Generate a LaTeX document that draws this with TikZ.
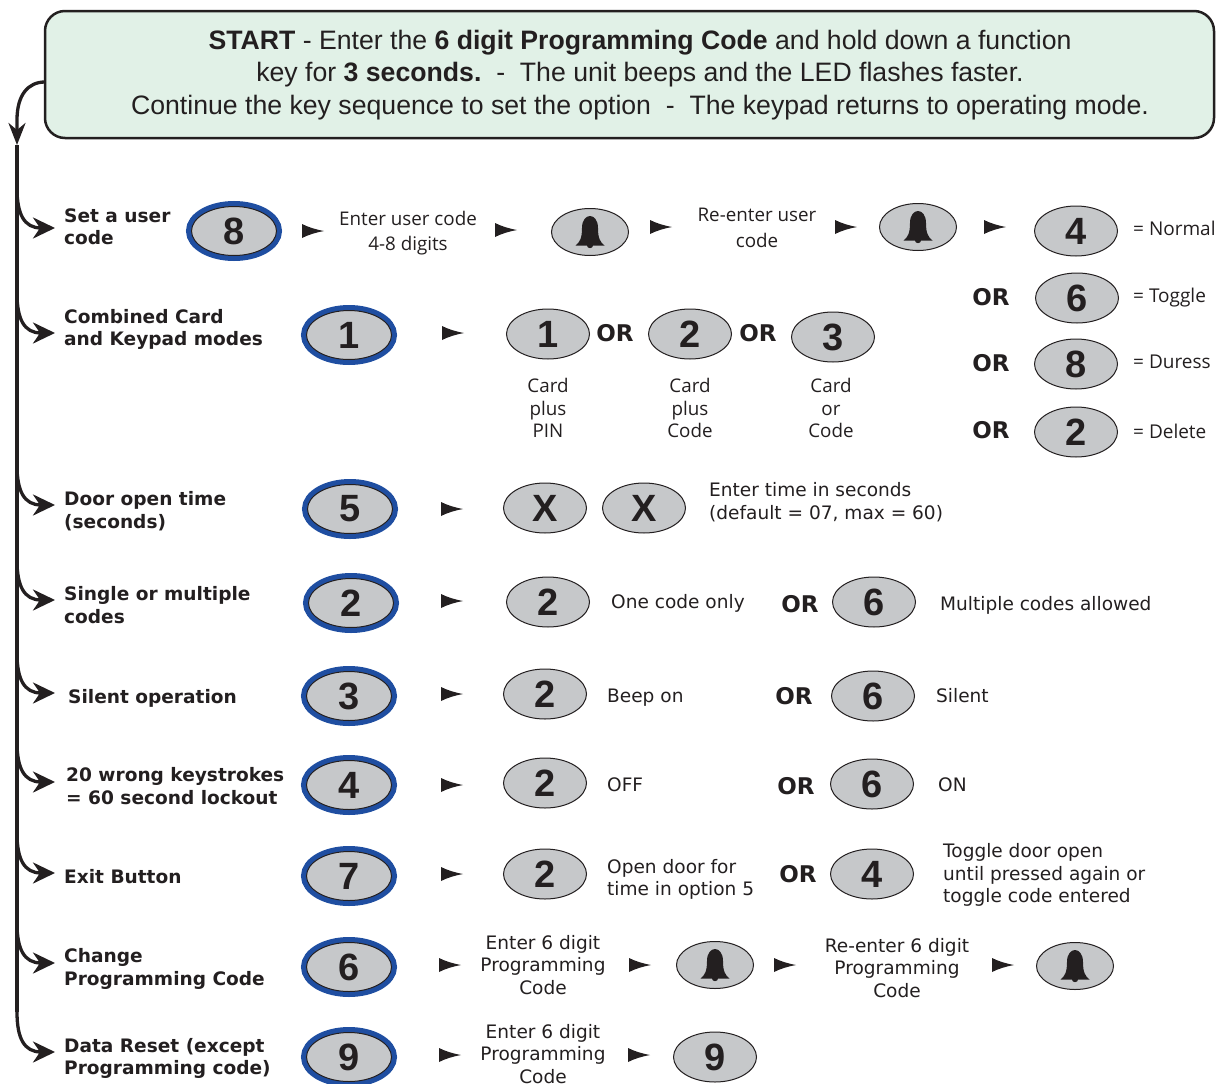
\documentclass[tikz,border=0pt]{standalone}
\usepackage{fontspec}
\setmainfont{Liberation Sans}
\newfontfamily\verdfont{DejaVu Sans}
\newfontfamily\openfont{Open Sans}
\usetikzlibrary{arrows.meta, shapes.geometric}
\definecolor{keygrey}{HTML}{C6C8CA}
\definecolor{keyblue}{HTML}{1F4EA1}
\definecolor{boxgreen}{HTML}{E1F1E7}
\definecolor{ink}{HTML}{231F20}
\tikzset{
  every node/.style={text=ink,inner sep=0pt},
  key/.style={ellipse,draw=ink,line width=1pt,fill=keygrey,minimum width=83pt,minimum height=50pt,
    font=\fontsize{38}{38}\selectfont\bfseries},
  bluekey/.style={key,minimum width=85pt,minimum height=49pt,preaction={draw=keyblue,line width=11pt}},
  lbl/.style={anchor=west,align=left,font=\fontsize{18.55}{22.5}\selectfont\verdfont\bfseries},
  ortext/.style={font=\fontsize{23}{23}\selectfont\verdfont\bfseries},
  plain/.style={align=center,font=\fontsize{18.8}{22.5}\selectfont\openfont},
  wideplain/.style={plain,font=\fontsize{18.8}{25.5}\selectfont\openfont},
  note/.style={anchor=west,align=left,font=\fontsize{18.55}{22.5}\selectfont\verdfont},
  eqtext/.style={anchor=west,font=\fontsize{19}{19}\selectfont\openfont},
  trunk/.style={draw=ink,line width=3.3pt},
  pointer/.pic={\fill[ink] (-11,-7) .. controls (-4,-3.5) and (3,-1.5) .. (11,0) .. controls (3,1.5) and (-4,3.5) .. (-11,7) -- cycle;},
  bellmark/.pic={\fill[ink] (-14.5,13.5) .. controls (-10,10) and (-8,6) .. (-8,-4)
    .. controls (-8,-12) and (-4,-16) .. (0,-16) .. controls (4,-16) and (8,-12) .. (8,-4)
    .. controls (8,6) and (10,10) .. (14.5,13.5) -- (3,13.5) .. controls (3,17) and (-3,17) .. (-3,13.5) -- cycle;}
}

\begin{document}
\begin{tikzpicture}[x=1pt,y=-1pt]
  \useasboundingbox (0,0) rectangle (1224,1084);

  \node[draw=ink,line width=2.5pt,fill=boxgreen,rounded corners=20pt,minimum width=1169pt,minimum height=127pt] (startbox) at (629.5,74.5) {};
  \node[align=center,font=\fontsize{26.65}{32.5}\selectfont] (starttext) at (640,75)
    {\textbf{START} - Enter the \textbf{6 digit Programming Code} and hold down a function\\
     key for \textbf{3 seconds.}\ \ -\ \ The unit beeps and the LED flashes faster.\\
     Continue the key sequence to set the option\ \ -\ \ The keypad returns to operating mode.};

  % left hand labels
  \node[lbl] (l1) at (64,226.5) {Set a user\\code};
  \node[lbl] (l2) at (64,329.5) {Combined Card\\and Keypad modes};
  \node[lbl] (l3) at (64,511) {Door open time\\(seconds)};
  \node[lbl] (l4) at (64,605) {Single or multiple\\codes};
  \node[lbl] (l5) at (68,698) {Silent operation};
  \node[lbl] (l6) at (66,786) {20 wrong keystrokes\\= 60 second lockout};
  \node[lbl] (l7) at (64,877) {Exit Button};
  \node[lbl] (l8) at (64,969) {Change\\Programming Code};
  \node[lbl] (l9) at (64,1058.5) {Data Reset (except\\Programming code)};

  % keys
  \foreach \nm/\x/\y/\t in {a8/234/231/8, a1/349/335/1, a5/350/509/5, a2/351/603/2, a3/349/696/3,
      a4/349/785/4, a7/349/876/7, a6/349/967/6, a9/349/1057/9}
    \node[bluekey] (\nm) at (\x,\y) {\t};
  \foreach \nm/\x/\y/\t in {n4/1076/231/4, n6/1077/298/6, n8/1076/364/8, n2/1076/432/2,
      c1/548/334/1, c2/690/334/2, c3/833/337/3, x1/545/508/X, x2/644/508/X,
      d2/548/602/2, d6/874/602/6, e2/545/694/2, e6/873/696/6, f2/545/783/2, f6/872/784/6,
      g2/545/874/2, g4/872/874/4, h9/715/1057/9}
    \node[key] (\nm) at (\x,\y) {\t};
  \foreach \nm/\x/\y in {b1/590/232, b2/918/227, b3/715/965, b4/1075/966} {
    \node[key,minimum width=77pt,minimum height=47pt] (\nm) at (\x,\y) {};
    \pic at (\nm) {bellmark};
  }

  % little pointers between the steps
  \foreach \x/\y in {313/231, 506/230, 661/227, 846/227, 995/227, 453/333, 452/509, 452/601, 452/694,
      452/785, 452/874, 450/965, 640/965, 785/965, 1003/965, 450/1055, 639/1055}
    \pic at (\x,\y) {pointer};

  % OR
  \foreach \nm/\x/\y in {o1/991/297, o2/991/363, o3/991/430, o4/615/333, o5/758/333, o6/800/604,
      o7/794/696, o8/796/786, o9/798/874}
    \node[ortext] (\nm) at (\x,\y) {OR};

  % step texts
  \node[wideplain] (s1) at (408,233) {Enter user code\\4-8 digits};
  \node[wideplain] (s2) at (757,228) {Re-enter user\\code};
  \node[eqtext] (q1) at (1133,228) {= Normal};
  \node[eqtext] (q2) at (1133,298) {= Toggle};
  \node[eqtext] (q3) at (1133,362) {= Duress};
  \node[eqtext] (q4) at (1133,431) {= Delete};
  \node[plain] (s3) at (548,408) {Card\\plus\\PIN};
  \node[plain] (s4) at (690,408) {Card\\plus\\Code};
  \node[plain] (s5) at (831,408) {Card\\or\\Code};
  \node[note] (t1) at (709,502) {Enter time in seconds\\(default = 07, max = 60)};
  \node[note] (t2) at (611,603) {One code only};
  \node[note] (t3) at (940,605) {Multiple codes allowed};
  \node[note] (t4) at (607,698) {Beep on};
  \node[note] (t5) at (936,696) {Silent};
  \node[note] (t6) at (607,785) {OFF};
  \node[note] (t7) at (938,785) {ON};
  \node[note] (t8) at (607,879.5) {Open door for\\time in option 5};
  \node[note] (t9) at (943,875) {Toggle door open\\until pressed again or\\toggle code entered};
  \node[note,anchor=center,align=center] (u1) at (543,965) {Enter 6 digit\\Programming\\Code};
  \node[note,anchor=center,align=center] (u2) at (897,968) {Re-enter 6 digit\\Programming\\Code};
  \node[note,anchor=center,align=center] (u3) at (543,1054) {Enter 6 digit\\Programming\\Code};

  % trunk and branches
  \coordinate (top) at (45,82);
  \coordinate (mid) at (17,145);
  \coordinate (end) at (17,1012);
  \draw[trunk,-{Stealth[length=22pt,width=17pt,inset=7pt]}] (top) .. controls (28,82) and (17,95) .. (17,120) -- (mid);
  \draw[trunk] (mid) -- (end);
  \foreach \nm/\y in {r1/228, r2/333, r3/505, r4/600, r5/693, r6/782, r7/873, r8/963, r9/1052} {
    \coordinate (\nm) at (55,\y);
    \coordinate (\nm s) at (17,\y-40);
    \draw[trunk,-{Stealth[length=22pt,width=21pt,inset=7pt]}] (\nm s) .. controls (17,\y-14) and (24,\y) .. (\nm);
  }
\end{tikzpicture}
\end{document}
